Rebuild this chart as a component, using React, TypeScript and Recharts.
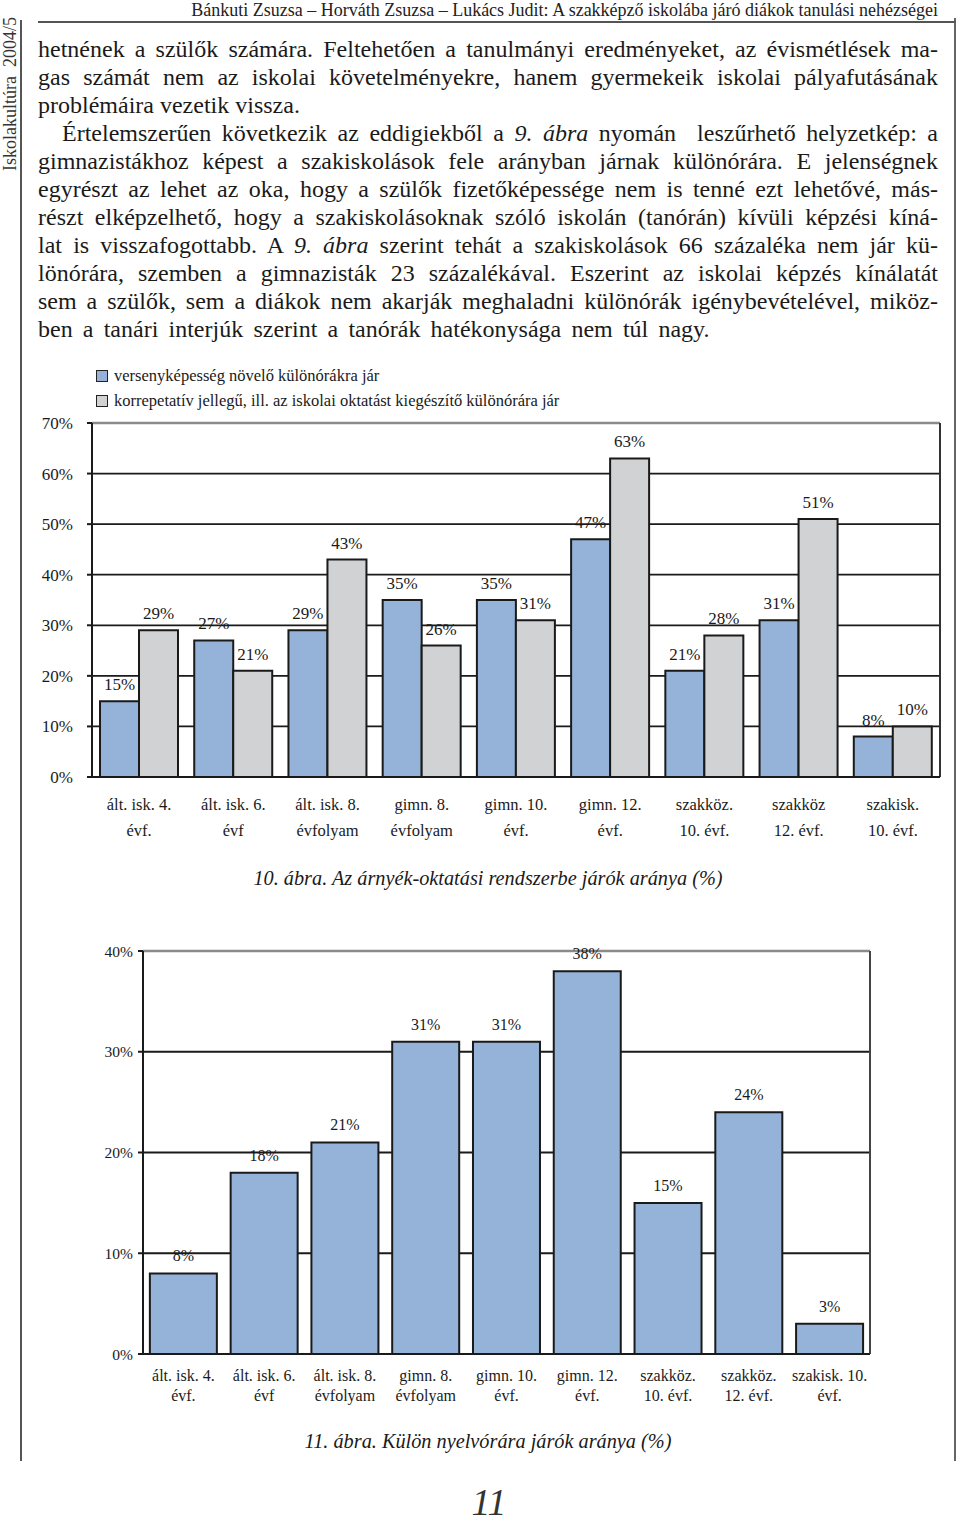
import React from 'react';
import {
  BarChart,
  Bar,
  XAxis,
  YAxis,
  CartesianGrid,
  LabelList,
  ReferenceLine,
} from 'recharts';

// ---------- DATA ----------
const categories1 = [
  'ált. isk. 4.\névf.',
  'ált. isk. 6.\névf',
  'ált. isk. 8.\névfolyam',
  'gimn. 8.\névfolyam',
  'gimn. 10.\névf.',
  'gimn. 12.\névf.',
  'szakköz.\n10. évf.',
  'szakköz\n12. évf.',
  'szakisk.\n10. évf.',
];
const competitiveTutoring = [15, 27, 29, 35, 35, 47, 21, 31, 8];
const remedialTutoring = [29, 21, 43, 26, 31, 63, 28, 51, 10];
const ticks1 = [0, 10, 20, 30, 40, 50, 60, 70];
const legend1 = [
  'versenyképesség növelő különórákra jár',
  'korrepetatív jellegű, ill. az iskolai oktatást kiegészítő különórára jár',
];

const categories2 = [
  'ált. isk. 4.\névf.',
  'ált. isk. 6.\névf',
  'ált. isk. 8.\névfolyam',
  'gimn. 8.\névfolyam',
  'gimn. 10.\névf.',
  'gimn. 12.\névf.',
  'szakköz.\n10. évf.',
  'szakköz.\n12. évf.',
  'szakisk. 10.\névf.',
];
const languageLessons = [8, 18, 21, 31, 31, 38, 15, 24, 3];
const ticks2 = [0, 10, 20, 30, 40];

const data1 = categories1.map((c, i) => ({
  cat: c,
  a: competitiveTutoring[i],
  b: remedialTutoring[i],
}));
const data2 = categories2.map((c, i) => ({ cat: c, v: languageLessons[i] }));

// ---------- STYLE ----------
const SERIF = "'Liberation Serif', 'Times New Roman', serif";
const INK = '#1a1a1a';
const BLUE = '#95b3d9';
const GRAY = '#d1d2d4';

const pct = (v: any) => `${v}%`;

const makeTick = (dy1: number, dy2: number, fs: number) => (props: any) => {
  const { x, y, payload } = props;
  const lines = String(payload.value).split('\n');
  return (
    <g>
      <text x={x} y={y + dy1} textAnchor="middle" fontSize={fs} fill={INK} fontFamily={SERIF}>
        {lines[0]}
      </text>
      <text x={x} y={y + dy2} textAnchor="middle" fontSize={fs} fill={INK} fontFamily={SERIF}>
        {lines[1] || ''}
      </text>
    </g>
  );
};

const Tick1 = makeTick(33, 59, 16.5);
const Tick2 = makeTick(27, 47, 16);

const bodyLines: { parts: (string | { i: string })[]; last?: boolean; indent?: boolean; ws?: number }[] = [
  { parts: ['hetnének a szülők számára. Feltehetően a tanulmányi eredményeket, az évismétlések ma-'] },
  { parts: ['gas számát nem az iskolai követelményekre, hanem gyermekeik iskolai pályafutásának'] },
  { parts: ['problémáira vezetik vissza.'], last: true },
  {
    parts: ['Értelemszerűen következik az eddigiekből a ', { i: '9. ábra' }, ' nyomán  leszűrhető helyzetkép: a'],
    indent: true,
  },
  { parts: ['gimnazistákhoz képest a szakiskolások fele arányban járnak különórára. E jelenségnek'] },
  { parts: ['egyrészt az lehet az oka, hogy a szülők fizetőképessége nem is tenné ezt lehetővé, más-'] },
  { parts: ['részt elképzelhető, hogy a szakiskolásoknak szóló iskolán (tanórán) kívüli képzési kíná-'] },
  { parts: ['lat is visszafogottabb. A ', { i: '9. ábra' }, ' szerint tehát a szakiskolások 66 százaléka nem jár kü-'] },
  { parts: ['lönórára, szemben a gimnazisták 23 százalékával. Eszerint az iskolai képzés kínálatát'] },
  { parts: ['sem a szülők, sem a diákok nem akarják meghaladni különórák igénybevételével, miköz-'] },
  { parts: ['ben a tanári interjúk szerint a tanórák hatékonysága nem túl nagy.'], last: true, ws: 4.2 },
];

export default function App() {
  return (
    <div
      style={{
        position: 'absolute',
        left: 0,
        top: 0,
        width: 960,
        height: 1525,
        background: '#fff',
        fontFamily: SERIF,
        color: INK,
        overflow: 'hidden',
      }}
    >
      {/* frame lines */}
      <div style={{ position: 'absolute', left: 20, top: 20, width: 2, height: 1441, background: '#555' }} />
      <div style={{ position: 'absolute', left: 954, top: 18, width: 2, height: 1443, background: '#666' }} />
      <div style={{ position: 'absolute', left: 38, top: 21, width: 918, height: 2, background: '#555' }} />

      {/* vertical journal title */}
      <div
        style={{
          position: 'absolute',
          left: -90,
          top: 84,
          width: 200,
          height: 20,
          lineHeight: '20px',
          textAlign: 'center',
          fontSize: 18,
          color: '#333',
          transform: 'rotate(-90deg)',
          whiteSpace: 'pre',
        }}
      >
        {'Iskolakultúra  2004/5'}
      </div>

      {/* header */}
      <div
        style={{
          position: 'absolute',
          right: 22,
          top: 0,
          lineHeight: '20px',
          fontSize: 18,
          whiteSpace: 'nowrap',
          color: '#222',
        }}
      >
        Bánkuti Zsuzsa – Horváth Zsuzsa – Lukács Judit: A szakképző iskolába járó diákok tanulási nehézségei
      </div>

      {/* body text */}
      <div style={{ position: 'absolute', left: 38, top: 35, width: 900, fontSize: 24, lineHeight: '28px' }}>
        {bodyLines.map((ln, k) => (
          <div
            key={k}
            style={{
              textAlign: 'justify',
              textAlignLast: ln.last ? 'left' : 'justify',
              whiteSpace: 'nowrap',
              paddingLeft: ln.indent ? 24 : 0,
              wordSpacing: ln.ws ? ln.ws : undefined,
            }}
          >
            {ln.parts.map((p, j) =>
              typeof p === 'string' ? (
                <span key={j} style={{ whiteSpace: 'pre' }}>{p}</span>
              ) : (
                <i key={j}>{p.i}</i>
              )
            )}
          </div>
        ))}
      </div>

      {/* legend chart 1 */}
      <div style={{ position: 'absolute', left: 96, top: 363, fontSize: 16.5, lineHeight: '25px' }}>
        {legend1.map((t, i) => (
          <div key={i} style={{ display: 'flex', alignItems: 'center', whiteSpace: 'nowrap' }}>
            <span
              style={{
                display: 'inline-block',
                width: 10,
                height: 10,
                border: '1.5px solid #222',
                background: i === 0 ? BLUE : GRAY,
                marginRight: 6,
              }}
            />
            <span>{t}</span>
          </div>
        ))}
      </div>

      {/* chart 1 */}
      <div style={{ position: 'absolute', left: 0, top: 360 }}>
        <BarChart
          width={960}
          height={490}
          data={data1}
          margin={{ top: 63, right: 20, bottom: 13, left: 32 }}
          barCategoryGap="8.5%"
          barGap={0}
        >
          <CartesianGrid vertical={false} stroke={INK} strokeWidth={1.8} />
          <YAxis
            width={60}
            domain={[0, 70]}
            ticks={ticks1}
            tickFormatter={pct}
            interval={0}
            axisLine={{ stroke: INK, strokeWidth: 2 }}
            tickLine={{ stroke: INK, strokeWidth: 2 }}
            tickSize={5}
            tickMargin={14}
            tick={{ fontSize: 17, fill: INK, fontFamily: SERIF }}
          />
          <XAxis
            dataKey="cat"
            height={60}
            interval={0}
            axisLine={{ stroke: INK, strokeWidth: 2 }}
            tickLine={false}
            tickSize={0}
            tickMargin={0}
            tick={Tick1}
          />
          <ReferenceLine y={70} stroke="#8a8a8a" strokeWidth={2.5} />
          <ReferenceLine x={categories1[categories1.length - 1]} position="end" stroke="#333" strokeWidth={2} />
          <Bar dataKey="a" fill={BLUE} stroke={INK} strokeWidth={2} isAnimationActive={false}>
            <LabelList dataKey="a" position="top" offset={11} formatter={pct} fontSize={17} fill={INK} fontFamily={SERIF} />
          </Bar>
          <Bar dataKey="b" fill={GRAY} stroke={INK} strokeWidth={2} isAnimationActive={false}>
            <LabelList dataKey="b" position="top" offset={11} formatter={pct} fontSize={17} fill={INK} fontFamily={SERIF} />
          </Bar>
        </BarChart>
      </div>

      {/* caption 1 */}
      <div
        style={{
          position: 'absolute',
          left: 0,
          width: 976,
          top: 866,
          textAlign: 'center',
          fontStyle: 'italic',
          fontSize: 20.3,
          lineHeight: '24px',
        }}
      >
        10. ábra. Az árnyék-oktatási rendszerbe járók aránya (%)
      </div>

      {/* chart 2 */}
      <div style={{ position: 'absolute', left: 0, top: 920 }}>
        <BarChart
          width={960}
          height={510}
          data={data2}
          margin={{ top: 31, right: 90, bottom: 16, left: 83 }}
          barCategoryGap="8.5%"
        >
          <CartesianGrid vertical={false} stroke={INK} strokeWidth={1.8} />
          <YAxis
            width={60}
            domain={[0, 40]}
            ticks={ticks2}
            tickFormatter={pct}
            interval={0}
            axisLine={{ stroke: INK, strokeWidth: 2 }}
            tickLine={{ stroke: INK, strokeWidth: 2 }}
            tickSize={5}
            tickMargin={5}
            tick={{ fontSize: 15.5, fill: INK, fontFamily: SERIF }}
          />
          <XAxis
            dataKey="cat"
            height={60}
            interval={0}
            axisLine={{ stroke: INK, strokeWidth: 2 }}
            tickLine={false}
            tickSize={0}
            tickMargin={0}
            tick={Tick2}
          />
          <ReferenceLine y={40} stroke="#8a8a8a" strokeWidth={2.5} />
          <ReferenceLine x={categories2[categories2.length - 1]} position="end" stroke="#444" strokeWidth={2} />
          <Bar dataKey="v" fill={BLUE} stroke={INK} strokeWidth={2} isAnimationActive={false}>
            <LabelList dataKey="v" position="top" offset={12} formatter={pct} fontSize={16} fill={INK} fontFamily={SERIF} />
          </Bar>
        </BarChart>
      </div>

      {/* caption 2 */}
      <div
        style={{
          position: 'absolute',
          left: 0,
          width: 976,
          top: 1429,
          textAlign: 'center',
          fontStyle: 'italic',
          fontSize: 20.3,
          lineHeight: '24px',
        }}
      >
        11. ábra. Külön nyelvórára járók aránya (%)
      </div>

      {/* page number */}
      <div
        style={{
          position: 'absolute',
          left: 0,
          width: 978,
          top: 1481,
          textAlign: 'center',
          fontStyle: 'italic',
          fontSize: 38,
          lineHeight: '42px',
          height: 42,
          color: '#333',
        }}
      >
        11
      </div>
    </div>
  );
}
